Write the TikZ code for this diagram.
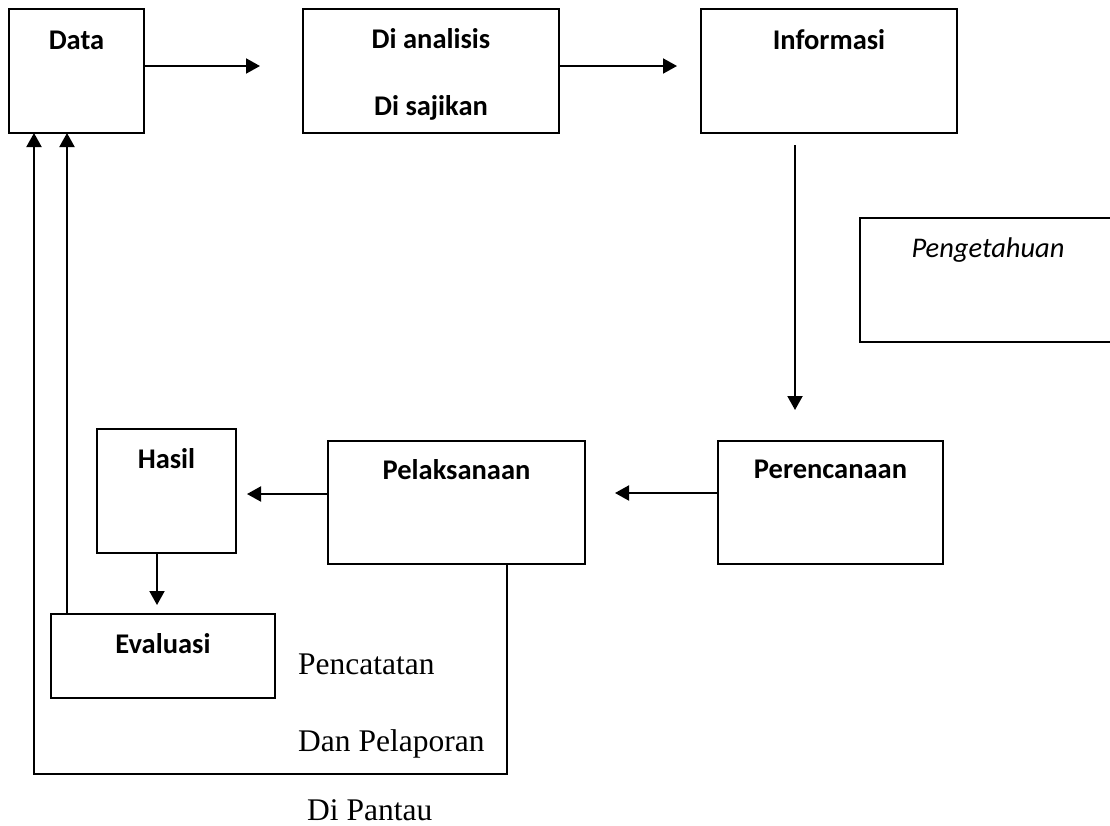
\documentclass[tikz,border=0pt]{standalone}
\usepackage{fontspec}
\setmainfont{Liberation Serif}
\newfontfamily\calibri{Carlito}
\usetikzlibrary{arrows.meta}

\begin{document}
\begin{tikzpicture}[x=1pt,y=-1pt,
  box/.style={draw, line width=1.6pt, rectangle, inner sep=0pt, outer sep=0pt, anchor=north west},
  lbl/.style={font=\calibri\bfseries\fontsize{28.5}{34}\selectfont, anchor=base, inner sep=0pt},
  ilbl/.style={font=\calibri\itshape\fontsize{28.5}{34}\selectfont, anchor=base, inner sep=0pt},
  note/.style={font=\fontsize{31.5}{38}\selectfont, anchor=base west, inner sep=0pt},
  arr/.style={line width=2pt, -{Triangle[length=14pt,width=15pt]}}]
\useasboundingbox (0,0) rectangle (1110,825);

% boxes of the cycle
\node[box, minimum width=135pt, minimum height=124pt] (data)  at (9,9)   {};
\node[box, minimum width=256pt, minimum height=124pt] (olah)  at (303,9) {};
\node[box, minimum width=256pt, minimum height=124pt] (info)  at (701,9) {};
\node[box, minimum width=260pt, minimum height=124pt] (tahu)  at (860,218) {};
\node[box, minimum width=225pt, minimum height=123pt] (renc)  at (718,441) {};
\node[box, minimum width=257pt, minimum height=123pt] (laks)  at (328,441) {};
\node[box, minimum width=139pt, minimum height=124pt] (hasil) at (97,429)  {};
\node[box, minimum width=224pt, minimum height=84pt]  (eval)  at (51,614)  {};

% box titles
\node[lbl] (tData)  at (data.north |- 0,49)  {Data};
\node[lbl] (tOlah1) at (olah.north |- 0,48)  {Di analisis};
\node[lbl] (tOlah2) at (olah.north |- 0,115) {Di sajikan};
\node[lbl] (tInfo)  at (info.north |- 0,49)  {Informasi};
\node[ilbl] (tTahu) at (988,257)             {Pengetahuan};
\node[lbl] (tRenc)  at (renc.north |- 0,478) {Perencanaan};
\node[lbl] (tLaks)  at (laks.north |- 0,479) {Pelaksanaan};
\node[lbl] (tHasil) at (hasil.north |- 0,468) {Hasil};
\node[lbl] (tEval)  at (eval.north |- 0,653) {Evaluasi};

% loose notes along the feedback path
\node[note] (n1) at (298,674) {Pencatatan};
\node[note] (n2) at (298,751) {Dan Pelaporan};
\node[note] (n3) at (307,820) {Di Pantau};

% free ends of the connectors
\coordinate (a1) at (260,66);
\coordinate (a2) at (677,66);
\coordinate (d1) at (795,145);
\coordinate (d2) at (795,410);
\coordinate (b1) at (615,493);
\coordinate (b2) at (247,494);
\coordinate (h1) at (157,605);
\coordinate (e1) at (67,614);
\coordinate (rv) at (507,774);
\coordinate (lv) at (34,774);

% connectors
\draw[arr] (data.east |- a1) -- (a1);
\draw[arr] (olah.east |- a2) -- (a2);
\draw[arr] (d1) -- (d2);
\draw[arr] (renc.west |- b1) -- (b1);
\draw[arr] (laks.west |- b2) -- (b2);
\draw[arr] (hasil.south -| h1) -- (h1);
\draw[arr] (eval.north -| e1) -- (data.south -| e1);
\draw[arr] (laks.south -| rv) -- (rv) -- (lv) -- (data.south -| lv);
\end{tikzpicture}
\end{document}
